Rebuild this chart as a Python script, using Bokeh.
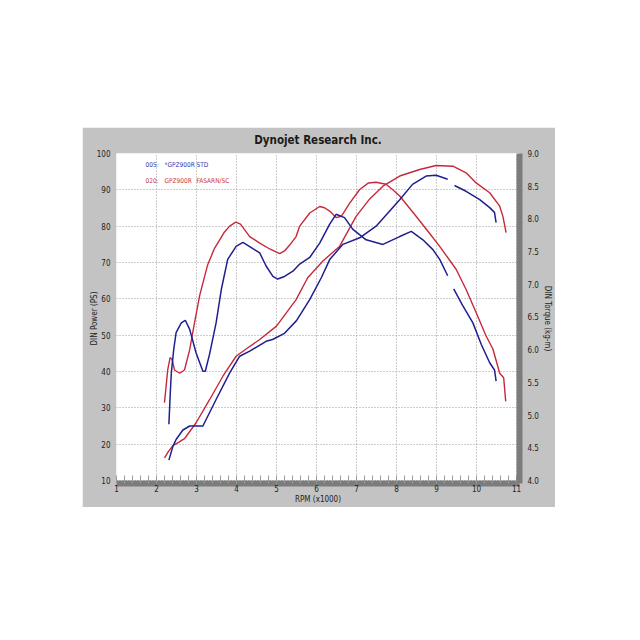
from bokeh.plotting import figure
from bokeh.models import (Range1d, LinearAxis, SingleIntervalTicker, NumeralTickFormatter,
                          Label, Spacer)
from bokeh.layouts import column, row
from bokeh.embed import file_html
from bokeh.resources import INLINE

nan = float("nan")

# ---- data (rpm x1000) ----
rpm_red_tq = [2.20, 2.28, 2.34, 2.39, 2.45, 2.58, 2.70, 2.83, 2.95, 3.08, 3.28, 3.45, 3.58, 3.70, 3.83,
              3.98, 4.10, 4.33, 4.58, 4.83, 5.08, 5.20, 5.33, 5.49, 5.58, 5.83, 6.08, 6.20, 6.33, 6.49,
              6.62, 6.83, 7.08, 7.30, 7.49, 7.74, 7.90, 8.08, 8.49, 8.80, 9.08, 9.49, 9.74, 9.99, 10.24,
              10.41, 10.58, 10.68, 10.73]
tq_red = [5.19, 5.69, 5.88, 5.85, 5.69, 5.64, 5.69, 6.00, 6.41, 6.83, 7.30, 7.55, 7.68, 7.80, 7.89,
          7.95, 7.92, 7.73, 7.63, 7.54, 7.47, 7.51, 7.60, 7.73, 7.89, 8.09, 8.19, 8.17, 8.12, 8.02,
          8.04, 8.24, 8.45, 8.55, 8.56, 8.53, 8.45, 8.35, 8.04, 7.80, 7.58, 7.23, 6.92, 6.57, 6.21,
          6.01, 5.64, 5.57, 5.21]

rpm_blue_tq = [2.31, 2.34, 2.37, 2.43, 2.49, 2.62, 2.72, 2.83, 2.99, 3.16, 3.22, 3.33, 3.49, 3.62, 3.78,
               3.99, 4.16, 4.37, 4.58, 4.74, 4.91, 5.03, 5.20, 5.41, 5.58, 5.83, 6.08, 6.33, 6.49, 6.70,
               6.91, 7.24, 7.66, 8.08, 8.37, 8.66, 8.91, 9.08, 9.28, nan, 9.43, 9.66, 9.91, 10.12, 10.33,
               10.45, 10.49]
tq_blue = [4.86, 5.28, 5.64, 6.00, 6.26, 6.41, 6.45, 6.31, 5.95, 5.67, 5.67, 5.94, 6.41, 6.92, 7.38,
           7.58, 7.64, 7.56, 7.48, 7.28, 7.12, 7.08, 7.12, 7.20, 7.31, 7.41, 7.63, 7.92, 8.07, 8.02,
           7.84, 7.68, 7.61, 7.73, 7.81, 7.68, 7.53, 7.38, 7.13, nan, 6.93, 6.67, 6.41, 6.08, 5.80,
           5.69, 5.52]

rpm_red_pw = [2.20, 2.30, 2.41, 2.55, 2.70, 2.99, 3.33, 3.66, 3.99, 4.24, 4.58, 5.00, 5.49, 5.78, 6.16,
              6.58, 6.99, 7.33, 7.66, 8.08, 8.58, 8.99, 9.41, 9.74, 9.99, 10.33, 10.58, 10.66, 10.74]
pw_red = [16.2, 18.0, 19.6, 20.5, 21.5, 25.9, 32.3, 38.7, 44.2, 46.2, 48.8, 52.5, 59.8, 65.8, 70.4,
          74.5, 82.7, 87.5, 91.0, 93.8, 95.6, 96.7, 96.5, 94.7, 91.9, 89.2, 85.5, 82.7, 78.2]

rpm_blue_pw = [2.31, 2.41, 2.49, 2.66, 2.83, 3.16, 3.49, 3.83, 4.08, 4.33, 4.74, 4.90, 5.20, 5.50, 5.83,
               6.12, 6.33, 6.66, 7.08, 7.49, 8.08, 8.40, 8.74, 8.99, 9.28, nan, 9.45, 9.74, 10.08, 10.33,
               10.45, 10.49]
pw_blue = [15.6, 19.4, 21.3, 23.9, 25.0, 25.0, 32.3, 39.6, 44.2, 45.6, 48.3, 48.8, 50.5, 54.0, 59.8,
           65.8, 70.8, 75.0, 76.8, 80.0, 87.3, 91.5, 93.8, 94.0, 92.9, nan, 91.2, 89.6, 87.3, 85.1,
           83.8, 81.0]

legend_blue = ["005:", "*GPZ900R", "STD"]
legend_red = ["020:", "GPZ900R", "FASARN/SC"]

title_text = "Dynojet Research Inc."
x_label = "RPM (x1000)"
y_label = "DIN Power (PS)"
y2_label = "DIN Torque (kg-m)"

# ---- styling ----
NARROW = "Liberation Sans Narrow, Arial Narrow, DejaVu Sans Condensed, sans-serif"
PANEL = "#c3c3c3"
SHADOW = "#7c7c7c"
BLUE = "#1f1f8f"
RED = "#c8283c"

# ranges padded by 3 px on the right / bottom so the shadow strip sits just outside 11 and 10
p = figure(width=473, height=380, x_range=Range1d(1, 11.075), y_range=Range1d(9.174, 100),
           output_backend="svg", toolbar_location=None,
           min_border_left=34, min_border_right=36, min_border_top=26, min_border_bottom=24,
           background_fill_color="white", border_fill_color=PANEL, outline_line_color=None)

p.title.text = title_text
p.title.align = "center"
p.title.vertical_align = "top"
p.title.text_font = NARROW
p.title.text_font_size = "11.5px"
p.title.text_font_style = "bold"
p.title.text_color = "#1a1a1a"

p.extra_y_ranges = {"tq": Range1d(3.954, 9)}

xa = p.xaxis[0]
xa.ticker = SingleIntervalTicker(interval=1, num_minor_ticks=5)
xa.axis_label = x_label
ya = p.yaxis[0]
ya.ticker = SingleIntervalTicker(interval=10, num_minor_ticks=0)
ya.axis_label = y_label

ra = LinearAxis(y_range_name="tq", ticker=SingleIntervalTicker(interval=0.5, num_minor_ticks=0),
                formatter=NumeralTickFormatter(format="0.0"), axis_label=y2_label)
p.add_layout(ra, "right")

for ax in (xa, ya, ra):
    ax.axis_line_color = None
    ax.major_tick_line_color = None
    ax.minor_tick_line_color = None
    ax.major_tick_out = 0
    ax.major_tick_in = 0
    ax.minor_tick_out = 0
    ax.minor_tick_in = 0
    ax.major_label_text_font = NARROW
    ax.major_label_text_font_size = "8px"
    ax.major_label_text_color = "#222222"
    ax.axis_label_text_font = NARROW
    ax.axis_label_text_font_size = "8px"
    ax.axis_label_text_font_style = "normal"
    ax.axis_label_text_color = "#222222"
    ax.axis_label_standoff = 0

# shadow strips along the right and bottom edges of the plotting area
for ax in (xa, ra):
    ax.axis_line_color = SHADOW
    ax.axis_line_width = 6

xa.minor_tick_line_color = "#9a9a9a"
xa.minor_tick_in = 8
xa.major_label_standoff = 1
ya.major_label_standoff = 6
ya.axis_label_standoff = -5
ra.major_label_standoff = 8
ra.axis_label_standoff = 1

p.xgrid.grid_line_color = "#9a9a9a"
p.xgrid.grid_line_dash = "1 2"
p.ygrid.grid_line_color = "#9a9a9a"
p.ygrid.grid_line_dash = "1 2"

# curves
p.line(rpm_red_tq, tq_red, y_range_name="tq", line_color=RED, line_width=1.4)
p.line(rpm_red_pw, pw_red, line_color=RED, line_width=1.4)
p.line(rpm_blue_tq, tq_blue, y_range_name="tq", line_color=BLUE, line_width=1.5)
p.line(rpm_blue_pw, pw_blue, line_color=BLUE, line_width=1.5)

# run legend text
cols = [1.725, 2.2, 3.0]
for txt, xc in zip(legend_blue, cols):
    p.add_layout(Label(x=xc, y=96.7, text=txt, text_font=NARROW, text_font_size="6.5px",
                       text_color="#3838b0", text_baseline="middle"))
for txt, xc in zip(legend_red, cols):
    p.add_layout(Label(x=xc, y=92.3, text=txt, text_font=NARROW, text_font_size="6.5px",
                       text_color="#c83838", text_baseline="middle"))

layout = column(Spacer(height=127), row(Spacer(width=82), p))

open("out.html", "w").write(file_html(layout, INLINE))
